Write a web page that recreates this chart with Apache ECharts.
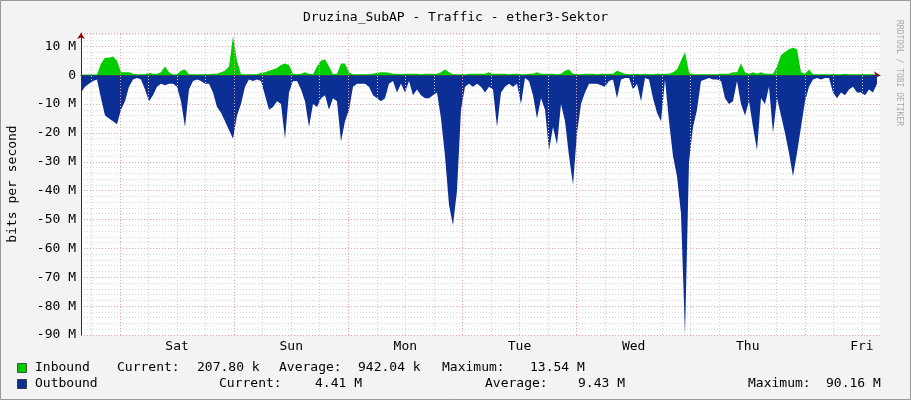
<!DOCTYPE html>
<html><head><meta charset="utf-8">
<script src="https://cdn.jsdelivr.net/npm/echarts@6/dist/echarts.min.js"></script>
<style>html,body{margin:0;padding:0;background:#f3f3f3}#c{width:911px;height:400px}</style>
</head><body><div id="c"></div>
<script>
// samples every ~0.841 h (7 days / 200 samples), values in Mbit/s
const outbound = [-6,-4,-3,-2,-1.5,-8,-14,-15,-16,-17,-12,-9,-4,-1.5,-1,-1.5,-5,-9,-7,-4,
-3,-3.5,-3,-3,-4,-9,-18,-5,-2,-1.5,-2,-3,-3,-6,-11,-13,-16,-19,-22,-14,
-10,-4,-1.5,-2,-1.5,-2,-7,-12,-11,-9,-10,-22,-6,-2,-2,-5,-9,-18,-10,-11,
-8,-7,-12,-8,-9,-23,-16,-12,-4,-3,-3,-3,-4,-7,-8,-9,-8,-3,-2,-6,
-3,-6,-2,-7,-5,-7,-8,-8,-7,-6,-15,-28,-45,-52,-40,-12,-4,-3,-4,-3,
-4,-6,-4,-5,-18,-6,-4,-3,-4,-3,-10,-1,-2,-7,-15,-8,-12,-26,-18,-24,
-10,-16,-28,-38,-20,-10,-6,-3,-3,-3,-3.5,-4,-2,-1.5,-8,-1.5,-1,-1,-5,-3,
-9,-1,-1.5,-8,-13,-16,-1.5,-16,-28,-35,-48,-90,-30,-18,-12,-2,-1.5,-1,-1.5,-1.5,
-2,-8,-10,-9,-2,-10,-14,-9,-18,-26,-8,-10,-4,-20,-8,-14,-20,-27,-35,-27,
-18,-9,-4,-1.5,-1,-1.5,-1,-1,-6,-8,-6,-7,-5,-4,-6,-6,-7,-5,-6,-3];
const inbound = [0.2,0.2,0.2,0.2,0.2,4,6,6,6.5,5,1,1,1,0.5,0.3,0.3,0.3,0.8,0.5,0.5,
1,3,1,0.2,0.3,1.5,2,0.3,0.3,0.3,0.3,0.3,0.3,0.5,0.5,1,1.5,3,13.5,5,
0.3,0.3,0.3,0.3,0.3,0.8,1,1.5,2,2.5,3.5,4,3.5,0.5,0.3,0.5,1,0.5,0.3,3,
5,5.5,3,0.3,0.5,4,4,1,0.3,0.3,0.3,0.3,0.3,0.5,0.8,1,1,0.8,0.5,0.5,
0.3,0.5,0.5,0.5,0.5,0.3,0.5,0.5,0.5,0.5,1,2,1,0.3,0.3,0.3,0.2,0.5,0.5,0.5,
0.5,0.5,1,0.5,0.5,0.5,0.5,0.3,0.5,0.5,0.3,0.3,0.5,0.5,1,0.5,0.5,0.5,0.5,0.3,
0.5,1.5,2,0.5,0.3,0.3,0.5,0.5,0.5,0.3,0.5,0.5,0.5,0.5,1.5,1,0.5,0.3,0.3,0.5,
0.3,0.5,0.3,0.3,0.5,0.5,0.5,0.5,1,2,5,8,1,0.3,0.3,0.3,0.3,0.3,0.3,0.3,
0.5,0.5,0.5,1,1,4,1,0.5,1,0.5,1,0.5,0.5,0.5,3,7,8,9,9.5,9,
1,0.5,2,0.3,0.3,0.3,0.3,0.3,0.3,0.3,0.3,0.5,0.3,0.3,0.3,0.3,0.3,0.3,0.3,0.3];
const dayLabels = ['Sat','Sun','Mon','Tue','Wed','Thu','Fri'];
const firstMidnight = 8.2; // hours from start of graph
const spanHours = 168;
const stepHours = spanHours * 4 / 799;
const yTicks = [-90,-80,-70,-60,-50,-40,-30,-20,-10,0,10];

const mono = 'DejaVu Sans Mono';
const toPts = arr => arr.map((v,i)=>[i*stepHours, v]);
const noon = dayLabels.map((d,i)=>firstMidnight+12+24*i);
const grid6 = [], gridDay = [];
for (let h = firstMidnight-6; h < spanHours; h += 6) {
  if (h <= 0) continue;
  const isDay = Math.abs(((h-firstMidnight)%24+24)%24) < 0.01;
  (isDay ? gridDay : grid6).push({xAxis: h});
}
const T = (text,x,y)=>({type:'text',x,y,style:{text,fontFamily:mono,fontSize:13,fill:'#000'}});
const chart = echarts.init(document.getElementById('c'));
chart.setOption({
  backgroundColor:'#f3f3f3',
  animation:false,
  title:{text:'Druzina_SubAP - Traffic - ether3-Sektor',left:'center',top:6,
    textStyle:{fontFamily:mono,fontSize:13,fontWeight:'normal',color:'#000'}},
  grid:{left:81,right:31,top:33,bottom:65,show:true,backgroundColor:'#fff',borderWidth:0,
    outerBoundsMode:'none',containLabel:false},
  xAxis:{type:'value',min:0,max:spanHours,
    axisLine:{lineStyle:{color:'#a00000'},symbol:['none','arrow'],symbolSize:[6,6]},
    axisTick:{show:false},
    axisLabel:{customValues:noon,formatter:v=>dayLabels[noon.findIndex(n=>Math.abs(n-v)<0.01)]||'',
      fontFamily:mono,fontSize:13,color:'#000',margin:5},
    splitLine:{show:false}},
  yAxis:{type:'value',min:-90,max:14.6,interval:10,
    axisLine:{show:true,onZero:false,lineStyle:{color:'#a00000'},symbol:['none','arrow'],symbolSize:[6,6]},
    axisTick:{show:false},
    axisLabel:{customValues:yTicks,formatter:v=>v===0?'0':v+' M',fontFamily:mono,fontSize:13,color:'#000',margin:5},
    splitLine:{show:true,lineStyle:{color:'#f0a0a0',type:[1,2],width:1}},
    minorTick:{show:false,splitNumber:5},
    minorSplitLine:{show:true,lineStyle:{color:'#d8d8d8',type:[1,2]}},
    name:'bits per second',nameLocation:'middle',nameGap:62,nameRotate:90,
    nameTextStyle:{fontFamily:mono,fontSize:13,color:'#000'}},
  series:[
    {type:'line',data:[],markLine:{silent:true,symbol:'none',label:{show:false},
      lineStyle:{color:'#d0d0d0',type:[1,2],width:1},data:grid6}},
    {type:'line',data:[],markLine:{silent:true,symbol:'none',label:{show:false},
      lineStyle:{color:'#f0a0a0',type:[1,2],width:1},data:gridDay}},
    {name:'Outbound',type:'line',data:toPts(outbound),showSymbol:false,
      lineStyle:{width:0},areaStyle:{color:'#0c2f96',opacity:1},z:3},
    {name:'Inbound',type:'line',data:toPts(inbound),showSymbol:false,
      lineStyle:{width:0},areaStyle:{color:'#00cc00',opacity:1},z:3}
  ],
  graphic:[
    {type:'rect',shape:{x:0.5,y:0.5,width:910,height:399},style:{fill:null,stroke:'#999',lineWidth:1},silent:true},
    {type:'text',x:903,y:20,rotation:-Math.PI/2,style:{text:'RRDTOOL / TOBI OETIKER',fontFamily:mono,fontSize:8,fill:'#aaa'}},
    {type:'rect',shape:{x:17.5,y:363.5,width:9,height:9},style:{fill:'#00cc00',stroke:'#000',lineWidth:0.6}},
    {type:'rect',shape:{x:17.5,y:379.5,width:9,height:9},style:{fill:'#0c2f96',stroke:'#000',lineWidth:0.6}},
    T('Inbound',35,361), T('Current:',117,361), T('207.80 k',197,361), T('Average:',279,361),
    T('942.04 k',358,361), T('Maximum:',442,361), T('13.54 M',530,361),
    T('Outbound',35,377), T('Current:',219,377), T('4.41 M',315,377),
    T('Average:',485,377), T('9.43 M',578,377), T('Maximum:',748,377), T('90.16 M',826,377)
  ]
});
</script></body></html>
